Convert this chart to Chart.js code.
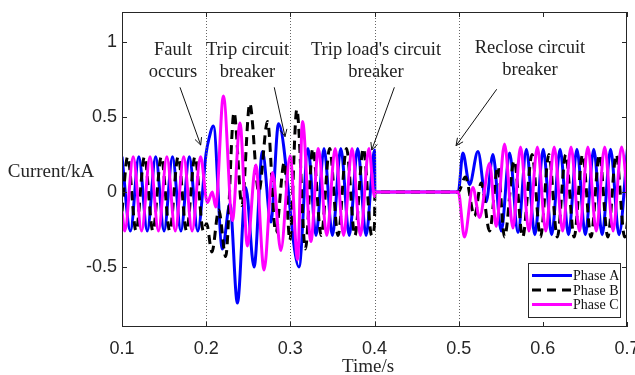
<!DOCTYPE html>
<html>
<head>
<meta charset="utf-8">
<script src="https://cdn.jsdelivr.net/npm/chart.js@4.4.0/dist/chart.umd.min.js"></script>
<style>
  html, body { margin: 0; padding: 0; background: #fff; }
  #wrap { width: 635px; height: 375px; }
</style>
</head>
<body>
<div id="wrap"><canvas id="chart" width="635" height="375"></canvas></div>
<script>
// Axis ticks
const xTicks = [0.1, 0.2, 0.3, 0.4, 0.5, 0.6, 0.7];
const yTicks = [-0.5, 0, 0.5, 1];

// Switching events (dotted markers)
const eventTimes = [0.2, 0.3, 0.4, 0.5];

// Phase A: times (s) and current (kA) at the turning points of the waveform
const phaseATime = [
  0.100, 0.110, 0.120, 0.130, 0.140, 0.150, 0.160, 0.170, 0.180, 0.190,
  0.2000, 0.2035, 0.2086, 0.2193, 0.2282, 0.2371, 0.2470, 0.2569, 0.2669, 0.2768, 0.2860, 0.3103,
  0.3210, 0.3305, 0.3400, 0.3500, 0.3600, 0.3700, 0.3800, 0.3900, 0.4000, 0.4005, 0.4995,
  0.5050, 0.5129, 0.5229, 0.5327, 0.5407, 0.5506, 0.5605, 0.5705, 0.5805, 0.5905,
  0.6005, 0.6105, 0.6205, 0.6305, 0.6405, 0.6505, 0.6605, 0.6705, 0.6805, 0.6905, 0.7005
];
const phaseAValue = [
  0.235, -0.26, 0.235, -0.26, 0.235, -0.26, 0.235, -0.26, 0.235, -0.26,
  0.26, 0.36, 0.44, -0.38, -0.08, -0.74, 0.03, -0.50, 0.27, -0.20, 0.455, -0.50,
  0.29, -0.29, 0.29, -0.29, 0.29, -0.29, 0.29, -0.29, 0.28, 0, 0,
  0.26, 0.05, 0.27, -0.065, 0.25, -0.26, 0.26, -0.27, 0.285, -0.285,
  0.285, -0.285, 0.285, -0.285, 0.285, -0.285, 0.285, -0.285, 0.285, -0.285, 0.285
];

// Phase B
const phaseBTime = [
  0.1000, 0.1067, 0.1167, 0.1267, 0.1367, 0.1467, 0.1567, 0.1667, 0.1767, 0.1867, 0.1967,
  0.2005, 0.2068, 0.2150, 0.2232, 0.2331, 0.2425, 0.2518, 0.2625, 0.2729, 0.2827, 0.2929, 0.2994, 0.3077, 0.3179,
  0.3267, 0.3367, 0.3467, 0.3567, 0.3667, 0.3767, 0.3867, 0.3967, 0.4000, 0.4005, 0.4995,
  0.5080, 0.5188, 0.5268, 0.5367, 0.5466, 0.5545, 0.5660, 0.5760, 0.5872, 0.5972,
  0.6072, 0.6172, 0.6272, 0.6372, 0.6472, 0.6572, 0.6672, 0.6772, 0.6872, 0.6972, 0.7072
];
const phaseBValue = [
  -0.13, 0.235, -0.26, 0.235, -0.26, 0.235, -0.26, 0.235, -0.26, 0.235, -0.26,
  -0.21, -0.40, -0.12, -0.43, 0.53, -0.09, 0.59, 0.0, 0.47, -0.27, 0.20, -0.32, 0.55, -0.38,
  0.29, -0.29, 0.29, -0.29, 0.29, -0.29, 0.29, -0.29, -0.22, 0, 0,
  0.10, -0.16, 0.06, -0.26, 0.17, -0.30, 0.21, -0.30, 0.25, -0.30,
  0.25, -0.30, 0.25, -0.30, 0.25, -0.30, 0.25, -0.30, 0.25, -0.30, 0.25
];

// Phase C
const phaseCTime = [
  0.1000, 0.1033, 0.1133, 0.1233, 0.1333, 0.1433, 0.1533, 0.1633, 0.1733, 0.1833, 0.1933,
  0.2014, 0.2074, 0.2113, 0.2205, 0.2312, 0.2402, 0.2490, 0.2589, 0.2688, 0.2788, 0.2887, 0.2998, 0.3086, 0.3145, 0.3244,
  0.3333, 0.3433, 0.3533, 0.3633, 0.3733, 0.3833, 0.3933, 0.4000, 0.4005, 0.4995,
  0.5069, 0.5169, 0.5248, 0.5367, 0.5446, 0.5545, 0.5645, 0.5735, 0.5835, 0.5935,
  0.6035, 0.6135, 0.6235, 0.6335, 0.6435, 0.6535, 0.6635, 0.6735, 0.6835, 0.6935, 0.7035
];
const phaseCValue = [
  -0.13, -0.26, 0.235, -0.26, 0.235, -0.26, 0.235, -0.26, 0.235, -0.26, 0.235,
  -0.07, 0.0, -0.10, 0.64, -0.19, 0.46, -0.36, 0.18, -0.52, 0.13, -0.39, 0.24, -0.45, 0.47, -0.33,
  0.29, -0.29, 0.29, -0.29, 0.29, -0.29, 0.29, -0.03, 0, 0,
  -0.30, 0.03, -0.17, 0.19, -0.23, 0.32, -0.24, 0.30, -0.26, 0.30,
  -0.26, 0.30, -0.26, 0.30, -0.26, 0.30, -0.26, 0.30, -0.26, 0.30, -0.26
];

// Text annotations with arrows (data coordinates)
const notes = [
  { lines: ['Fault', 'occurs'], at: [0.1606, 0.947], from: [0.1689, 0.698], to: [0.1935, 0.313] },
  { lines: ['Trip circuit', 'breaker'], at: [0.2491, 0.947], from: [0.2809, 0.698], to: [0.2937, 0.369] },
  { lines: ["Trip load's circuit", 'breaker'], at: [0.4018, 0.947], from: [0.4236, 0.698], to: [0.3967, 0.280] },
  { lines: ['Reclose circuit', 'breaker'], at: [0.5847, 0.962], from: [0.5452, 0.685], to: [0.4969, 0.309] }
];

const serif = '"Liberation Serif", "Times New Roman", serif';
const sans = '"Liberation Sans", Arial, sans-serif';
const axisColor = '#262626';
const lineWidth = 3;

const toPoints = (ts, vs) => ts.map((t, i) => ({ x: t, y: vs[i] }));

// Draws the axes box, inward ticks, event markers, titles, notes and legend
const framePlugin = {
  id: 'frame',
  afterDatasetsDraw(chart) {
    const { ctx, chartArea: a, scales: { x, y } } = chart;
    ctx.save();

    // dotted event lines
    ctx.strokeStyle = '#666';
    ctx.lineWidth = 1;
    ctx.setLineDash([1, 2]);
    eventTimes.forEach(t => {
      const px = Math.round(x.getPixelForValue(t)) + 0.5;
      ctx.beginPath();
      ctx.moveTo(px, a.top);
      ctx.lineTo(px, a.bottom);
      ctx.stroke();
    });
    ctx.setLineDash([]);

    // box
    ctx.strokeStyle = axisColor;
    ctx.lineWidth = 1;
    ctx.strokeRect(Math.round(a.left) + 0.5, Math.round(a.top) + 0.5,
      Math.round(a.right - a.left) - 1, Math.round(a.bottom - a.top) - 1);

    // inward ticks
    const tl = 5;
    ctx.beginPath();
    xTicks.forEach(v => {
      const px = Math.round(x.getPixelForValue(v)) + 0.5;
      ctx.moveTo(px, a.bottom); ctx.lineTo(px, a.bottom - tl);
      ctx.moveTo(px, a.top); ctx.lineTo(px, a.top + tl);
    });
    yTicks.forEach(v => {
      const py = Math.round(y.getPixelForValue(v)) + 0.5;
      ctx.moveTo(a.left, py); ctx.lineTo(a.left + tl, py);
      ctx.moveTo(a.right, py); ctx.lineTo(a.right - tl, py);
    });
    ctx.stroke();
    ctx.restore();
  },
  afterDraw(chart) {
    const { ctx, chartArea: a, scales: { x, y } } = chart;
    ctx.save();

    // axis titles
    ctx.fillStyle = axisColor;
    ctx.font = '19px ' + serif;
    ctx.textAlign = 'center';
    ctx.textBaseline = 'middle';
    ctx.fillText('Current/kA', 51, 172);
    ctx.fillText('Time/s', 368, 367);

    // annotations
    ctx.font = '18.5px ' + serif;
    ctx.fillStyle = '#222';
    ctx.strokeStyle = '#111';
    ctx.lineWidth = 1;
    notes.forEach(n => {
      const cx = x.getPixelForValue(n.at[0]);
      const cy = y.getPixelForValue(n.at[1]);
      n.lines.forEach((s, i) => ctx.fillText(s, cx, cy + i * 22));
      const x0 = x.getPixelForValue(n.from[0]), y0 = y.getPixelForValue(n.from[1]);
      const x1 = x.getPixelForValue(n.to[0]), y1 = y.getPixelForValue(n.to[1]);
      ctx.beginPath();
      ctx.moveTo(x0, y0);
      ctx.lineTo(x1, y1);
      const ang = Math.atan2(y1 - y0, x1 - x0);
      const head = 8, spread = 0.45;
      ctx.moveTo(x1, y1);
      ctx.lineTo(x1 - head * Math.cos(ang - spread), y1 - head * Math.sin(ang - spread));
      ctx.moveTo(x1, y1);
      ctx.lineTo(x1 - head * Math.cos(ang + spread), y1 - head * Math.sin(ang + spread));
      ctx.stroke();
    });

    // legend
    const bx = Math.round(a.right) - 99, by = Math.round(a.bottom) - 64, bw = 92, bh = 54;
    ctx.fillStyle = '#fff';
    ctx.fillRect(bx, by, bw, bh);
    ctx.strokeStyle = axisColor;
    ctx.strokeRect(bx + 0.5, by + 0.5, bw, bh);
    ctx.save();
    ctx.beginPath();
    ctx.rect(bx, by, bw, bh);
    ctx.clip();
    ctx.font = '14px ' + serif;
    ctx.textAlign = 'left';
    chart.data.datasets.forEach((ds, i) => {
      const ly = by + 12.5 + i * 14.5;
      ctx.strokeStyle = ds.borderColor;
      ctx.lineWidth = lineWidth;
      ctx.setLineDash(ds.borderDash || []);
      ctx.beginPath();
      ctx.moveTo(bx + 4, ly);
      ctx.lineTo(bx + 44, ly);
      ctx.stroke();
      ctx.setLineDash([]);
      ctx.fillStyle = '#111';
      ctx.fillText(ds.label, bx + 45, ly + 1);
    });
    ctx.restore();
    ctx.restore();
  }
};

new Chart(document.getElementById('chart'), {
  type: 'line',
  data: {
    datasets: [
      { label: 'Phase A', data: toPoints(phaseATime, phaseAValue), borderColor: '#0000ff', borderWidth: lineWidth, order: 3 },
      { label: 'Phase B', data: toPoints(phaseBTime, phaseBValue), borderColor: '#000000', borderWidth: lineWidth, borderDash: [9, 6], order: 2 },
      { label: 'Phase C', data: toPoints(phaseCTime, phaseCValue), borderColor: '#ff00ff', borderWidth: lineWidth, order: 1 }
    ]
  },
  options: {
    responsive: false,
    animation: false,
    devicePixelRatio: 1,
    layout: { padding: { top: 12, right: 8, left: 0, bottom: 0 } },
    elements: {
      point: { radius: 0 },
      line: { cubicInterpolationMode: 'monotone', fill: false }
    },
    plugins: { legend: { display: false }, tooltip: { enabled: false } },
    scales: {
      x: {
        type: 'linear',
        min: 0.1,
        max: 0.7,
        afterBuildTicks: s => { s.ticks = xTicks.map(v => ({ value: v })); },
        afterFit: s => { s.height = 48; s.paddingLeft = 0; s.paddingRight = 0; },
        grid: { display: false, drawTicks: false },
        border: { display: false },
        ticks: {
          autoSkip: false, maxRotation: 0, padding: 11, color: axisColor,
          font: { family: sans, size: 18 },
          callback: v => String(v)
        }
      },
      y: {
        min: -0.9,
        max: 1.2,
        afterBuildTicks: s => { s.ticks = yTicks.map(v => ({ value: v })); },
        afterFit: s => { s.width = 122; s.paddingTop = 0; s.paddingBottom = 0; },
        grid: { display: false, drawTicks: false },
        border: { display: false },
        ticks: {
          padding: 5, color: axisColor,
          font: { family: sans, size: 18 },
          callback: v => String(v)
        }
      }
    }
  },
  plugins: [framePlugin]
});
</script>
</body>
</html>
